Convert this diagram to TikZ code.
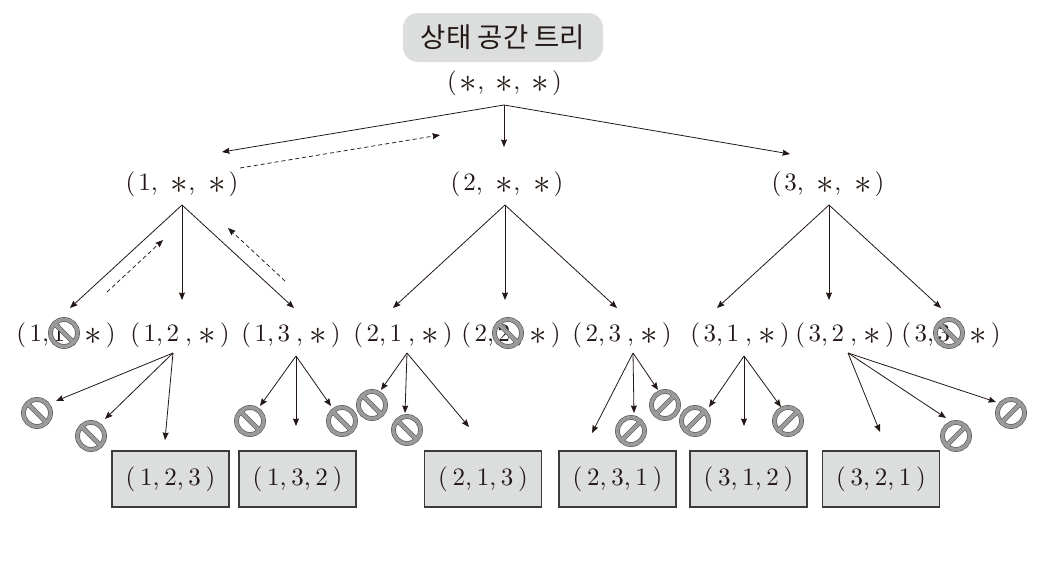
\documentclass[tikz,border=0pt]{standalone}
\usepackage{fontspec}
\newfontfamily\krfont{Noto Sans CJK KR}
\usetikzlibrary{arrows.meta}
\definecolor{ink}{HTML}{231815}
\definecolor{boxgray}{HTML}{DCDDDD}
\definecolor{boxedge}{HTML}{3E3A39}
\definecolor{ringgray}{HTML}{9A9A9A}
\definecolor{ringdark}{HTML}{555555}
\newcommand{\bigstar}{\raisebox{-.13em}{\scalebox{1.4}{$\ast$}}}
\newcommand{\tupS}[1]{\scalebox{2.5}{#1}}
\newcommand{\tupR}{\tupS{(\hspace{.12em}\bigstar,\hspace{.46em}\bigstar,\hspace{.46em}\bigstar\hspace{.12em})}}
\newcommand{\tupA}[1]{\tupS{(\hspace{.12em}#1,\hspace{.52em}\bigstar,\hspace{.52em}\bigstar\hspace{.12em})}}
\newcommand{\tupB}[2]{\tupS{(\hspace{.14em}#1,\hspace{.14em}#2\hspace{.24em},\hspace{.24em}\bigstar\hspace{.17em})}}
\newcommand{\tupC}[3]{\tupS{(\hspace{.19em}#1,\hspace{.19em}#2,\hspace{.19em}#3\hspace{.19em})}}
\tikzset{
  x=1pt,y=-1pt,
  tuple/.style={text=ink,inner sep=0pt},
  leafbox/.style={draw=boxedge,line width=1.5pt,fill=boxgray,minimum width=117pt,minimum height=56pt,inner sep=0pt,text=ink},
  titlebox/.style={fill=boxgray,rounded corners=15pt,minimum width=200pt,minimum height=49pt,inner sep=0pt,text=ink,font=\krfont\fontsize{27.5}{32}\selectfont},
  arr/.style={draw=ink,line width=.8pt,-{Stealth[length=7.5pt,width=6pt,inset=.8pt]}},
  dasharr/.style={arr,line width=.75pt,dash pattern=on 4pt off 3pt},
  pics/noL/.style={code={
    \draw[ringdark,line width=4.8pt] (0,0) circle (13.5pt);
    \draw[ringdark,line width=4.8pt] (-9.5,-9.5) -- (9.5,9.5);
    \draw[ringgray,line width=3.6pt] (0,0) circle (13.5pt);
    \draw[ringgray,line width=3.6pt] (-9.5,-9.5) -- (9.5,9.5);
  }},
  pics/noR/.style={code={
    \draw[ringdark,line width=4.8pt] (0,0) circle (13.5pt);
    \draw[ringdark,line width=4.8pt] (9.5,-9.5) -- (-9.5,9.5);
    \draw[ringgray,line width=3.6pt] (0,0) circle (13.5pt);
    \draw[ringgray,line width=3.6pt] (9.5,-9.5) -- (-9.5,9.5);
  }}
}
\begin{document}
\begin{tikzpicture}
\useasboundingbox[fill=white] (0,0) rectangle (1055,570);
\node[titlebox] (title) at (503,37.5) {상태 공간 트리};
\node[tuple] (root) at (504.5,83) {\tupR};
\node[tuple] (a1) at (182,184) {\tupA{1}};
\node[tuple] (a2) at (507,184) {\tupA{2}};
\node[tuple] (a3) at (828,184) {\tupA{3}};
\node[tuple] (b11) at (66,335) {\tupB{1}{1}};
\node[tuple] (b12) at (180,335) {\tupB{1}{2}};
\node[tuple] (b13) at (291,335) {\tupB{1}{3}};
\node[tuple] (b21) at (403,335) {\tupB{2}{1}};
\node[tuple] (b22) at (511,335) {\tupB{2}{2}};
\node[tuple] (b23) at (622,335) {\tupB{2}{3}};
\node[tuple] (b31) at (740,335) {\tupB{3}{1}};
\node[tuple] (b32) at (845,335) {\tupB{3}{2}};
\node[tuple] (b33) at (951,335) {\tupB{3}{3}};
\node[leafbox] (c1) at (170.5,479) {\tupC{1}{2}{3}};
\node[leafbox] (c2) at (297.5,479) {\tupC{1}{3}{2}};
\node[leafbox] (c3) at (483,479) {\tupC{2}{1}{3}};
\node[leafbox] (c4) at (617.5,479) {\tupC{2}{3}{1}};
\node[leafbox] (c5) at (748.5,479) {\tupC{3}{1}{2}};
\node[leafbox] (c6) at (881,479) {\tupC{3}{2}{1}};
% connector origins and free ends
\foreach \n/\x/\y in {
  r0/504/105, ra/222/152, rb/504/147, rc/790/154, ds1/240/168, de1/440/135,
  p1/182/205, p1a/70/308, p1b/182/300, p1c/294/308,
  ds2/107/292, de2/163/240, ds3/285/281, de3/228/228,
  p2/505/205, p2a/393/308, p2b/505/300, p2c/617/308,
  p3/829/205, p3a/717/308, p3b/829/300, p3c/941/308,
  q12/173/353, q12a/56/401, q12b/105/419, q12c/165/440,
  q13/296/356, q13a/260/406, q13b/296/426, q13c/331/406,
  q21/407/353, q21a/381/390, q21b/405/413, q21c/469/427,
  q23/633/353, q23a/592/433, q23b/634/413, q23c/658/390,
  q31/744/356, q31a/709/407, q31b/744/426, q31c/781/407,
  q32/848/353, q32a/880/432, q32b/946/418, q32c/996/402}
  {\coordinate (\n) at (\x,\y);}
\foreach \s/\e in {r0/ra,r0/rb,r0/rc,
  p1/p1a,p1/p1b,p1/p1c,p2/p2a,p2/p2b,p2/p2c,p3/p3a,p3/p3b,p3/p3c,
  q12/q12a,q12/q12b,q12/q12c,q13/q13a,q13/q13b,q13/q13c,
  q21/q21a,q21/q21b,q21/q21c,q23/q23a,q23/q23b,q23/q23c,
  q31/q31a,q31/q31b,q31/q31c,q32/q32a,q32/q32b,q32/q32c}
  {\draw[arr] (\s) -- (\e);}
\foreach \s/\e in {ds1/de1,ds2/de2,ds3/de3}
  {\draw[dasharr] (\s) -- (\e);}
% prohibition marks
\foreach \x/\y in {64/333,37/413,91/436,250/421,342/421,372/405,407/430,508/333,949/333}
  {\pic at (\x,\y) {noL};}
\foreach \x/\y in {665/405,631/431,695/421,788/421,956/436,1011/413}
  {\pic at (\x,\y) {noR};}
\end{tikzpicture}
\end{document}
